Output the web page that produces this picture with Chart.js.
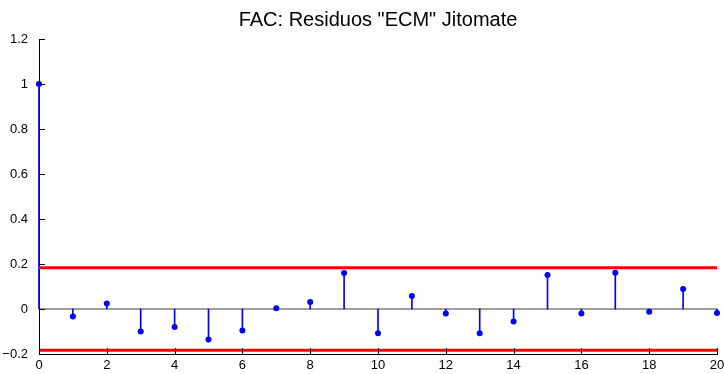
<!DOCTYPE html>
<html>
<head>
<meta charset="utf-8">
<script src="https://cdn.jsdelivr.net/npm/chart.js@4/dist/chart.umd.min.js"></script>
<style>
  body { margin: 0; background: #fff; }
  #wrap { width: 724px; height: 374px; }
</style>
</head>
<body>
<div id="wrap"><canvas id="fac"></canvas></div>
<script>
// datos
const lags = [0, 1, 2, 3, 4, 5, 6, 7, 8, 9, 10, 11, 12, 13, 14, 15, 16, 17, 18, 19, 20];
const acf = [1, -0.033, 0.024, -0.10, -0.08, -0.135, -0.096, 0.003, 0.031, 0.16, -0.108,
             0.058, -0.02, -0.108, -0.055, 0.151, -0.02, 0.161, -0.012, 0.089, -0.018];
const banda = 0.183;   // limites de confianza
const xTicks = [0, 2, 4, 6, 8, 10, 12, 14, 16, 18, 20];
const yTicks = [-0.2, 0, 0.2, 0.4, 0.6, 0.8, 1, 1.2];

const puntos = lags.map((l, i) => ({ x: l, y: acf[i] }));
const xMin = lags[0], xMax = lags[lags.length - 1];
const fuente = 'Liberation Sans, Arial, Helvetica, sans-serif';

// marcas de eje hacia dentro, estilo matlab
const ticksDentro = {
  id: 'ticksDentro',
  afterDraw(chart) {
    const { ctx, scales: { x, y } } = chart;
    ctx.save();
    ctx.strokeStyle = '#000';
    ctx.lineWidth = 1;
    ctx.beginPath();
    xTicks.forEach(v => {
      const px = Math.round(x.getPixelForValue(v)) + 0.5;
      ctx.moveTo(px, y.bottom);
      ctx.lineTo(px, y.bottom - 6);
    });
    yTicks.forEach(v => {
      const py = Math.round(y.getPixelForValue(v)) + 0.5;
      ctx.moveTo(x.left, py);
      ctx.lineTo(x.left + 6, py);
    });
    ctx.stroke();
    ctx.restore();
  }
};

const fmt = v => {
  const s = String(Math.round(v * 10) / 10);
  return v < 0 ? '\u2212' + s.slice(1) : s;
};

new Chart(document.getElementById('fac'), {
  data: {
    datasets: [
      {
        type: 'line',
        data: [{ x: xMin, y: 0 }, { x: xMax, y: 0 }],
        borderColor: '#404040',
        borderWidth: 1,
        pointRadius: 0,
        order: 5
      },
      {
        type: 'bar',
        data: puntos,
        backgroundColor: '#0000ff',
        barThickness: 1,
        clip: false,
        order: 4
      },
      {
        type: 'scatter',
        data: puntos,
        backgroundColor: '#0000ff',
        borderWidth: 0,
        pointRadius: 3,
        clip: false,
        order: 3
      },
      {
        type: 'line',
        data: [{ x: xMin, y: banda }, { x: xMax, y: banda }],
        borderColor: '#ff0000',
        borderWidth: 3,
        pointRadius: 0,
        order: 2
      },
      {
        type: 'line',
        data: [{ x: xMin, y: -banda }, { x: xMax, y: -banda }],
        borderColor: '#ff0000',
        borderWidth: 3,
        pointRadius: 0,
        order: 2
      }
    ]
  },
  options: {
    responsive: true,
    maintainAspectRatio: false,
    animation: false,
    layout: { padding: { left: 0, right: 7, top: 0, bottom: 0 } },
    plugins: {
      legend: { display: false },
      tooltip: { enabled: false },
      title: {
        display: true,
        fullSize: false,
        text: 'FAC: Residuos "ECM" Jitomate',
        color: '#000',
        font: { family: fuente, size: 20, weight: 'normal', lineHeight: 1.2 },
        padding: { top: 8, bottom: 7 }
      }
    },
    scales: {
      x: {
        type: 'linear',
        min: xMin,
        max: xMax,
        offset: false,
        grid: { display: false },
        border: { display: true, color: '#000', width: 1 },
        afterFit: s => { s.height = 20; },
        afterBuildTicks: s => { s.ticks = xTicks.map(v => ({ value: v })); },
        ticks: {
          color: '#000',
          padding: -4,
          maxRotation: 0,
          font: { family: fuente, size: 13 }
        }
      },
      y: {
        type: 'linear',
        min: -0.2,
        max: 1.2,
        grid: { display: false },
        border: { display: true, color: '#000', width: 1 },
        afterFit: s => { s.width = 39; },
        afterBuildTicks: s => { s.ticks = yTicks.map(v => ({ value: v })); },
        ticks: {
          color: '#000',
          padding: 3,
          callback: v => fmt(v),
          font: { family: fuente, size: 13 }
        }
      }
    }
  },
  plugins: [ticksDentro]
});
</script>
</body>
</html>
